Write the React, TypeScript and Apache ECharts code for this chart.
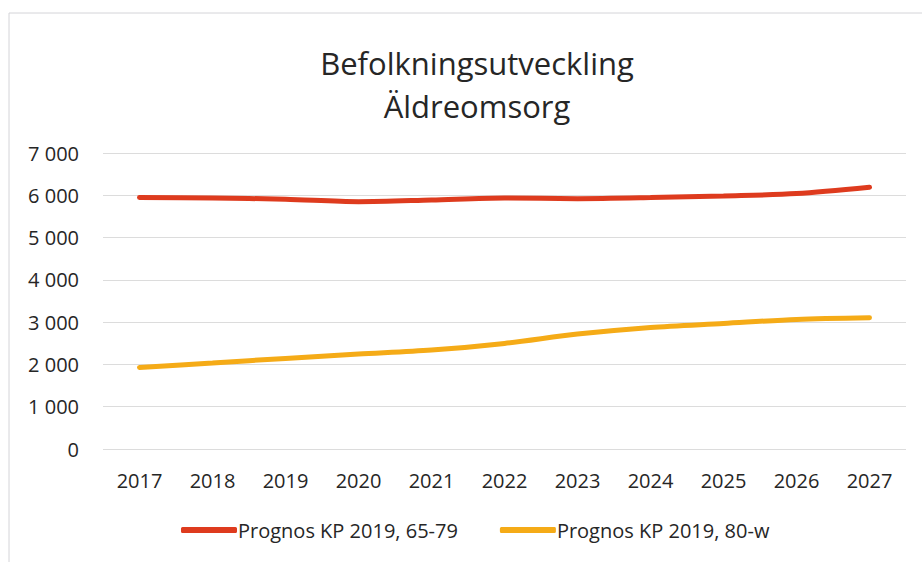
import React, { useEffect, useRef } from "react";
import * as echarts from "echarts";

const years = ["2017", "2018", "2019", "2020", "2021", "2022", "2023", "2024", "2025", "2026", "2027"];
const serie6579 = [5945, 5937, 5906, 5850, 5890, 5937, 5920, 5945, 5985, 6040, 6190];
const serie80w = [1930, 2035, 2143, 2244, 2339, 2497, 2717, 2875, 2969, 3064, 3102];
const seriesNames = ["Prognos KP 2019, 65-79", "Prognos KP 2019, 80-w"];
const titleLines = ["Befolkningsutveckling", "Äldreomsorg"];

const FONT = "'Open Sans', sans-serif";

export default function App() {
  const ref = useRef<HTMLDivElement>(null);
  useEffect(() => {
    if (!ref.current) return;
    const chart = echarts.init(ref.current, null, { renderer: "svg" });
    chart.setOption({
      animation: false,
      backgroundColor: "#ffffff",
      title: {
        text: titleLines.join("\n"),
        left: 472,
        textAlign: "center",
        top: 36,
        textStyle: {
          fontFamily: FONT,
          fontSize: 31,
          fontWeight: "normal",
          color: "#262626",
          lineHeight: 43,
        },
      },
      graphic: [
        {
          type: "rect",
          shape: { x: 9, y: 13, width: 940, height: 600 },
          style: { fill: "none", stroke: "#d4d4d8", lineWidth: 1 },
          silent: true,
        },
      ],
      legend: {
        bottom: 17,
        left: 176,
        itemWidth: 56,
        itemHeight: 6,
        itemGap: 42,
        icon: "roundRect",
        textStyle: { fontFamily: FONT, fontSize: 20, color: "#262626", padding: [0, 0, 0, -4] },
        data: seriesNames,
      },
      grid: { left: 103, right: 16, top: 153, bottom: 113 },
      xAxis: {
        type: "category",
        data: years,
        boundaryGap: true,
        axisLine: { show: false },
        axisTick: { show: false },
        axisLabel: { fontFamily: FONT, fontSize: 20, color: "#262626", margin: 21 },
      },
      yAxis: {
        type: "value",
        min: 0,
        max: 7000,
        interval: 1000,
        axisLine: { show: false },
        axisTick: { show: false },
        axisLabel: {
          fontFamily: FONT,
          fontSize: 20,
          color: "#262626",
          margin: 24,
          formatter: (v: number) => {
            const s = String(v);
            return s.length > 3 ? s.slice(0, s.length - 3) + " " + s.slice(-3) : s;
          },
        },
        splitLine: { lineStyle: { color: "#dcdcdc", width: 1 } },
      },
      series: [
        {
          name: seriesNames[0],
          type: "line",
          data: serie6579,
          smooth: 0.3,
          showSymbol: false,
          symbol: "none",
          color: "#de3b1e",
          lineStyle: { width: 5, color: "#de3b1e", cap: "round" },
        },
        {
          name: seriesNames[1],
          type: "line",
          data: serie80w,
          smooth: 0.3,
          showSymbol: false,
          symbol: "none",
          color: "#f5ab17",
          lineStyle: { width: 5, color: "#f5ab17", cap: "round" },
        },
      ],
    });
    return () => chart.dispose();
  }, []);
  return <div ref={ref} style={{ position: "fixed", left: 0, top: 0, width: 922, height: 562 }} />;
}
